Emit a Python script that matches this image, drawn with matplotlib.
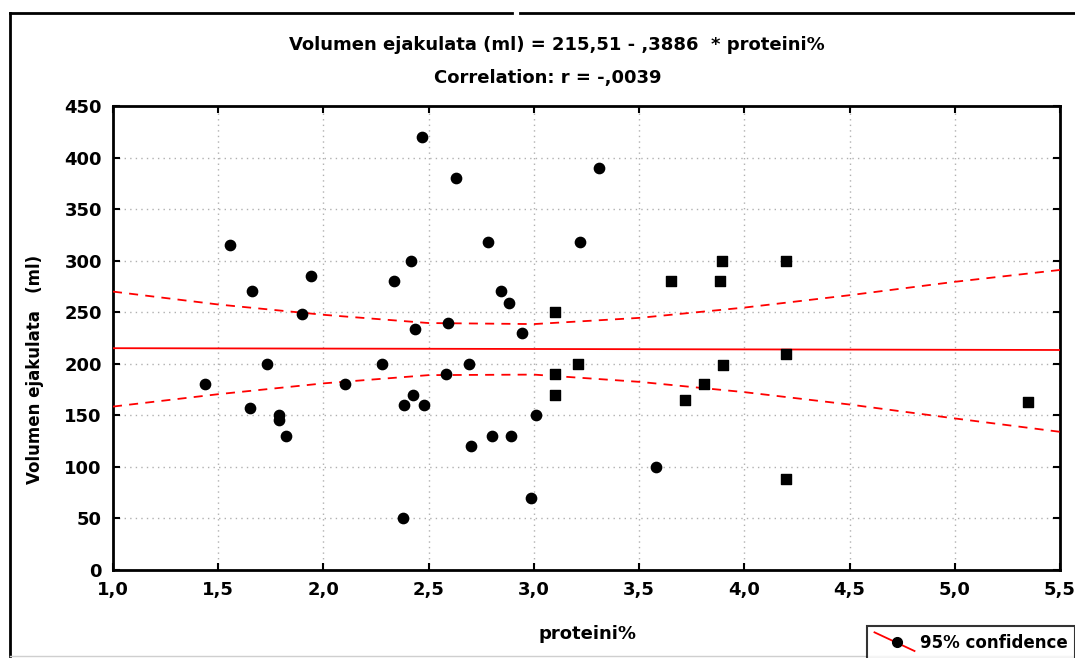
import matplotlib
matplotlib.use("Agg")
import matplotlib.pyplot as plt
from matplotlib.lines import Line2D
from matplotlib.legend_handler import HandlerBase
import numpy as np

plt.rcParams['font.family'] = ['DejaVu Sans']
plt.rcParams['font.weight'] = 'bold'

# --- data ---
circle_x = [1.436, 1.556, 1.649, 1.659, 1.73, 1.789, 1.789, 1.82, 1.899, 1.939,
            2.102, 2.276, 2.336, 2.376, 2.382, 2.414, 2.427, 2.435, 2.467, 2.479,
            2.58, 2.59, 2.63, 2.69, 2.70, 2.78, 2.80, 2.843, 2.883, 2.89,
            2.944, 2.986, 3.01, 3.22, 3.309, 3.58]
circle_y = [180, 315, 157, 271, 200, 150, 145, 130, 248, 285,
            180, 200, 280, 50, 160, 300, 170, 234, 420, 160,
            190, 240, 380, 200, 120, 318, 130, 271, 259, 130,
            230, 70, 150, 318, 390, 100]
square_x = [3.10, 3.10, 3.10, 3.21, 3.653, 3.72, 3.81, 3.885, 3.895, 3.90,
            4.20, 4.20, 4.20, 5.35]
square_y = [250, 190, 170, 200, 280, 165, 180, 280, 300, 199,
            300, 209, 88, 163]

intercept = 215.51
slope = -0.3886

band_x = [1.0, 1.5, 2.0, 2.5, 3.0, 3.5, 4.0, 4.5, 5.0, 5.5]
band_upper = [270, 257.5, 247.5, 239.5, 238.5, 244.5, 254.5, 266.5, 279.5, 291]
band_lower = [158.5, 170.5, 181, 189, 189.5, 182.5, 172.5, 160.5, 147, 134]

x_ticks = [1.0, 1.5, 2.0, 2.5, 3.0, 3.5, 4.0, 4.5, 5.0, 5.5]
x_ticklabels = ['1,0', '1,5', '2,0', '2,5', '3,0', '3,5', '4,0', '4,5', '5,0', '5,5']
y_ticks = [0, 50, 100, 150, 200, 250, 300, 350, 400, 450]

title1 = 'Volumen ejakulata (ml) = 215,51 - ,3886  * proteini%'
title2 = 'Correlation: r = -,0039'
legend_label = '95% confidence'

fig = plt.figure(figsize=(10.75, 6.58), dpi=100)
ax = fig.add_axes([113/1075, 1-570/658, (1060-113)/1075, (570-106)/658])

ax.set_xlim(1.0, 5.5)
ax.set_ylim(0, 450)
ax.set_xticks(x_ticks)
ax.set_xticklabels(x_ticklabels)
ax.set_yticks(y_ticks)

ax.grid(True, linestyle=(0, (1, 3)), color='#b0b0b0', linewidth=1.0)
ax.set_axisbelow(True)

for s in ax.spines.values():
    s.set_linewidth(2.0)
    s.set_color('black')

ax.tick_params(axis='both', direction='in', length=5, width=1.5,
               top=True, right=True, labelsize=13, pad=8)
for lab in ax.get_xticklabels() + ax.get_yticklabels():
    lab.set_fontweight('bold')

xl = np.array([1.0, 5.5])
ax.plot(xl, intercept + slope * xl, color='red', linewidth=1.3, zorder=3)
ax.plot(band_x, band_upper, color='red', linestyle=(0, (5, 4)), linewidth=1.3, zorder=3)
ax.plot(band_x, band_lower, color='red', linestyle=(0, (5, 4)), linewidth=1.3, zorder=3)

ax.scatter(circle_x, circle_y, marker='o', s=55, color='black', zorder=4)
ax.scatter(square_x, square_y, marker='s', s=55, color='black', zorder=4)

fig.text(557/1075, 1-45/658, title1, ha='center', va='center', fontsize=13, fontweight='bold')
fig.text(548/1075, 1-78/658, title2, ha='center', va='center', fontsize=13, fontweight='bold')

fig.text(35/1075, 1-369/658, 'Volumen ejakulata   (ml)', rotation=90,
         ha='center', va='center', fontsize=12, fontweight='bold')
fig.text(588/1075, 1-634/658, 'proteini%', ha='center', va='center', fontsize=13,
         fontweight='bold')

# outer frame
lw = 2.0
fig.add_artist(Line2D([10/1075, 10/1075], [1-13/658, 1-656/658], color='black', lw=lw))
fig.add_artist(Line2D([10/1075, 512/1075], [1-13/658, 1-13/658], color='black', lw=lw))
fig.add_artist(Line2D([520/1075, 1.0], [1-13/658, 1-13/658], color='black', lw=lw))
fig.add_artist(Line2D([10/1075, 1.0], [1-656/658, 1-656/658], color='#cfcfcf', lw=1.0))


class DiagonalHandler(HandlerBase):
    def create_artists(self, legend, orig_handle, xdescent, ydescent, width, height,
                       fontsize, trans):
        line = Line2D([-xdescent, -xdescent + width],
                      [-ydescent + height * 1.3, -ydescent - height * 0.3],
                      color='red', lw=1.3, transform=trans)
        dot = Line2D([-xdescent + width * 0.55], [-ydescent + height * 0.5],
                     marker='o', markersize=7, color='black', linestyle='None',
                     transform=trans)
        return [line, dot]


handle = Line2D([], [], color='red')
leg = fig.legend([handle], [legend_label], loc='upper left',
                 bbox_to_anchor=(867/1075, 1-626/658), frameon=True,
                 fancybox=False, edgecolor='black',
                 prop={'size': 12, 'weight': 'bold'},
                 handlelength=2.4, handletextpad=0.3, borderpad=0.45, borderaxespad=0,
                 handler_map={Line2D: DiagonalHandler()})
leg.get_frame().set_linewidth(1.5)

fig.savefig('out.png', dpi=100)
